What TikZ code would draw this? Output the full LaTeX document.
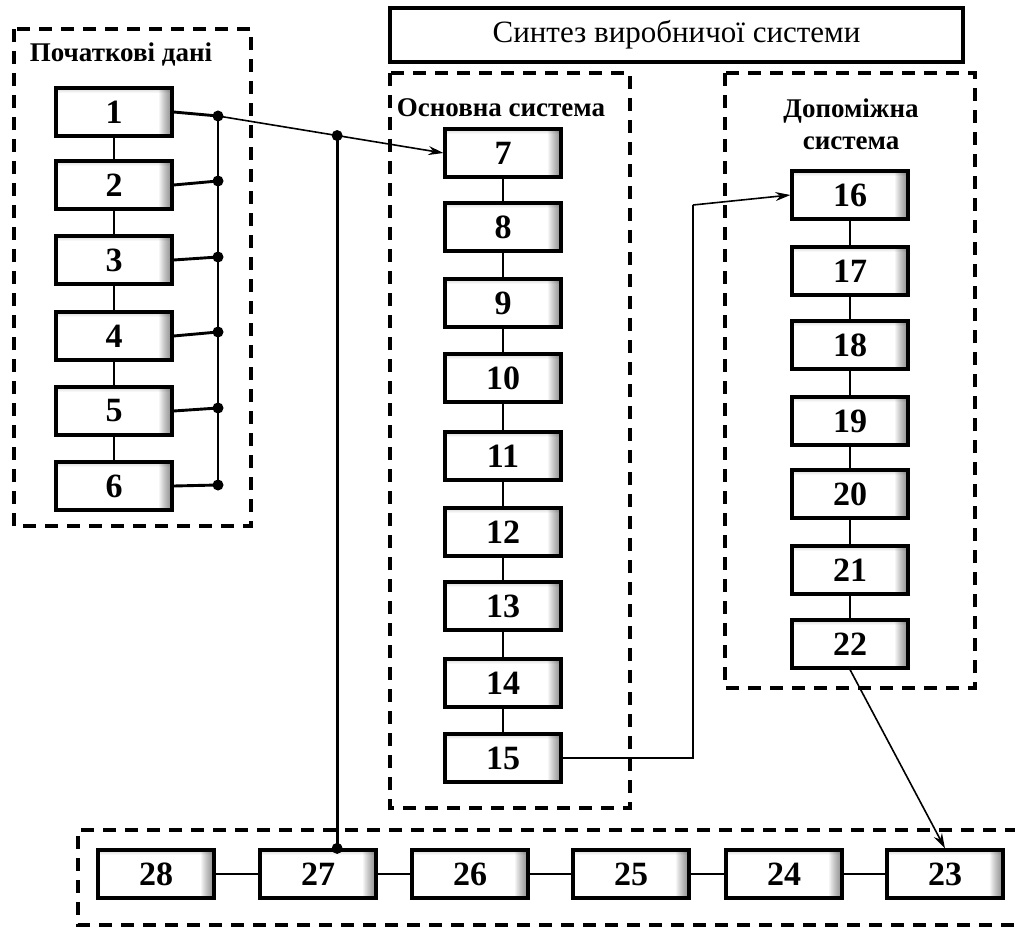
\documentclass[tikz,border=0pt]{standalone}
\usepackage{fontspec}
\setmainfont{Liberation Serif}
\usetikzlibrary{arrows.meta,calc}
\begin{document}
\begin{tikzpicture}[x=1pt,y=-1pt,
  blk/.style={draw, line width=3.2pt, minimum width=116pt, minimum height=48pt,
    inner sep=0pt, fill=white, font=\fontsize{34}{36}\selectfont\bfseries,
    path picture={
      % soft inner shadow along the right and top edges
      \foreach \k in {1,...,13}
        \fill[black, fill opacity=0.04]
          ([xshift={(\k-14)*1pt}]path picture bounding box.north east)
          rectangle (path picture bounding box.south east);
      \foreach \k in {1,...,5}
        \fill[black, fill opacity=0.03]
          (path picture bounding box.north west)
          rectangle ([yshift={(\k-6)*1pt}]path picture bounding box.north east);
    }},
  grp/.style={draw, line width=3.2pt, dash pattern=on 13pt off 9pt},
  link/.style={line width=2.9pt},
  thinline/.style={line width=1.6pt},
  arr/.style={thinline, -{Stealth[length=15pt,width=9pt]}},
  dot/.style={circle, fill, inner sep=0pt, minimum size=11pt},
  lbl/.style={font=\fontsize{27}{32}\selectfont\bfseries, align=center}
]
\useasboundingbox (0,0) rectangle (1015,928);

% group frames
\draw[grp] (14,29) rectangle (251,526);
\draw[grp] (390,73) rectangle (630,808);
\draw[grp] (725,73) rectangle (975,688);
\draw[grp] (1040,830) -- (78,830) -- (78,925) -- (1040,925);

% headings
\node[draw, line width=3.2pt, minimum width=573pt, minimum height=54pt, inner sep=0pt,
      font=\fontsize{31}{33}\selectfont] (head) at (676.5,35) {Синтез виробничої системи};
\node[lbl] (lin) at (121,54) {Початкові дані};
\node[lbl] (lmain) at (501,108) {Основна система};
\node[lbl] (laux) at (851,124) {Допоміжна\\система};

% initial data
\foreach \i/\y in {1/112,2/185,3/260,4/336,5/411,6/486}
  \node[blk] (b\i) at (114,\y) {\i};
% main system
\foreach \i/\y in {7/153,8/227,9/303,10/378,11/456,12/532,13/606,14/683,15/758}
  \node[blk] (b\i) at (503,\y) {\i};
% auxiliary system
\foreach \i/\y in {16/195,17/271,18/345,19/421,20/494,21/570,22/644}
  \node[blk] (b\i) at (850,\y) {\i};
% bottom row
\foreach \i/\x in {28/156,27/318,26/470,25/631,24/784,23/945}
  \node[blk] (b\i) at (\x,874) {\i};

% vertical chains
\foreach \a/\b in {1/2,2/3,3/4,4/5,5/6,7/8,8/9,9/10,10/11,11/12,12/13,13/14,14/15,16/17,17/18,18/19,19/20,20/21,21/22}
  \draw[link] (b\a.south) -- (b\b.north);
% bottom chain
\foreach \a/\b in {28/27,27/26,26/25,25/24,24/23}
  \draw[link] (b\a.east) -- (b\b.west);

% bus of the initial data
\foreach \i/\y in {1/116,2/181,3/257,4/332,5/408,6/485}{
  \coordinate (d\i) at (218,\y);
  \draw[link] (b\i.east) -- (d\i);
  \node[dot] at (d\i) {};
}
\draw[link] (d1) -- (d6);

% feed to the main system and to block 27
\coordinate (m) at ($(d1)!0.5286!(b7.west)$);
\coordinate (t27) at (m |- b27.north);
\draw[arr] (d1) -- (b7.west);
\draw[link] (m) -- (t27);
\node[dot] at (m) {};
\node[dot] at (t27) {};

% main -> auxiliary
\coordinate (k) at (693,205);
\draw[link] (b15.east) -- (b15.east -| k) -- (k);
\draw[arr] (k) -- (b16.west);

% auxiliary -> bottom row
\draw[arr] (b22.south) -- (b23.north);
\end{tikzpicture}
\end{document}
